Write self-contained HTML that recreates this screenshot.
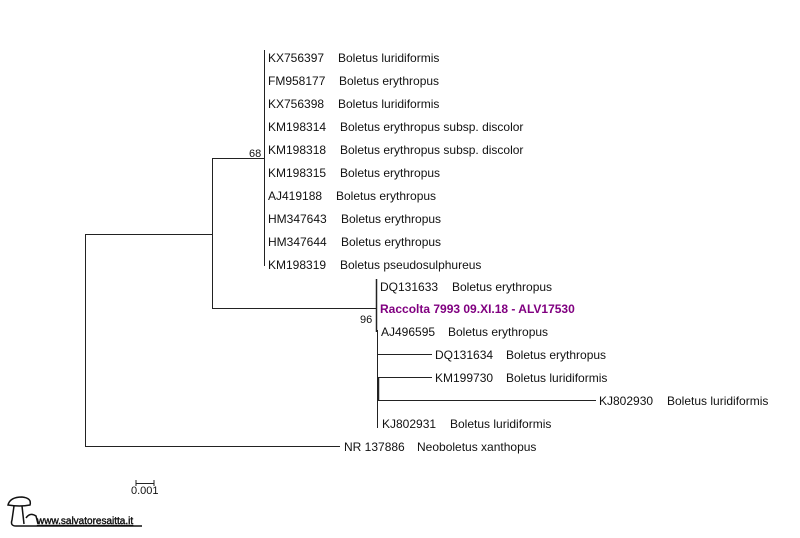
<!DOCTYPE html>
<html><head><style>
body{margin:0;background:#fff;}
svg text{font-family:"Liberation Sans",sans-serif;font-size:12px;fill:#111;}
</style></head><body>
<svg width="800" height="533" viewBox="0 0 800 533" xmlns="http://www.w3.org/2000/svg">
<g stroke="#222" stroke-width="1" fill="none">
<line x1="85.5" y1="234" x2="85.5" y2="447"/>
<line x1="85" y1="234.5" x2="212" y2="234.5"/>
<line x1="85" y1="446.5" x2="340" y2="446.5"/>
<line x1="212.5" y1="158" x2="212.5" y2="309"/>
<line x1="212" y1="158.5" x2="264" y2="158.5"/>
<line x1="212" y1="308.5" x2="376" y2="308.5"/>
<line x1="264.5" y1="50" x2="264.5" y2="266"/>
<line x1="376.5" y1="279" x2="376.5" y2="332" stroke-width="1.5"/>
<line x1="377.5" y1="330" x2="377.5" y2="428"/>
<line x1="377" y1="354.5" x2="432" y2="354.5"/>
<line x1="378" y1="377.5" x2="432" y2="377.5"/>
<line x1="378.5" y1="377" x2="378.5" y2="401" stroke-width="1.5"/>
<line x1="378" y1="400.5" x2="596" y2="400.5"/>
<line x1="136" y1="480" x2="136" y2="486"/>
<line x1="154" y1="480" x2="154" y2="486"/>
<line x1="136" y1="483.5" x2="154" y2="483.5"/>
</g>
<text x="268" y="62">KX756397</text><text x="338" y="62">Boletus luridiformis</text>
<text x="268" y="85">FM958177</text><text x="339" y="85">Boletus erythropus</text>
<text x="268" y="108">KX756398</text><text x="338" y="108">Boletus luridiformis</text>
<text x="268" y="131">KM198314</text><text x="340" y="131">Boletus erythropus subsp. discolor</text>
<text x="268" y="154">KM198318</text><text x="340" y="154">Boletus erythropus subsp. discolor</text>
<text x="268" y="177">KM198315</text><text x="340" y="177">Boletus erythropus</text>
<text x="268" y="200">AJ419188</text><text x="336" y="200">Boletus erythropus</text>
<text x="268" y="223">HM347643</text><text x="341" y="223">Boletus erythropus</text>
<text x="268" y="246">HM347644</text><text x="341" y="246">Boletus erythropus</text>
<text x="268" y="269">KM198319</text><text x="340" y="269">Boletus pseudosulphureus</text>
<text x="249" y="157" style="font-size:11px">68</text>
<text x="380" y="291">DQ131633</text><text x="452" y="291">Boletus erythropus</text>
<text x="380" y="313" style="fill:#800080;font-weight:bold">Raccolta 7993 09.XI.18 - ALV17530</text>
<text x="360" y="323" style="font-size:11px">96</text>
<text x="381" y="336">AJ496595</text><text x="448" y="336">Boletus erythropus</text>
<text x="435" y="359">DQ131634</text><text x="506" y="359">Boletus erythropus</text>
<text x="435" y="382">KM199730</text><text x="506" y="382">Boletus luridiformis</text>
<text x="599" y="405">KJ802930</text><text x="667" y="405">Boletus luridiformis</text>
<text x="382" y="428">KJ802931</text><text x="450" y="428">Boletus luridiformis</text>
<text x="344" y="451">NR 137886</text><text x="417" y="451">Neoboletus xanthopus</text>
<text x="131" y="494" style="font-size:11px">0.001</text>
<g stroke="#111" stroke-width="1.5" fill="none">
<path d="M8 505 Q10 497 22 497 Q32 498 30 505 Q20 507 8 505Z"/>
<path d="M14 506 L12 520 Q10 526 16 526"/>
<path d="M22 506 L24 524"/>
<path d="M26 518 Q30 512 36 516 L38 524"/>
<line x1="16" y1="526" x2="142" y2="526"/>
</g>
<text x="37" y="524" style="font-size:10px;text-decoration:underline;stroke:#111;stroke-width:0.4">www.salvatoresaitta.it</text>
</svg>
</body></html>
